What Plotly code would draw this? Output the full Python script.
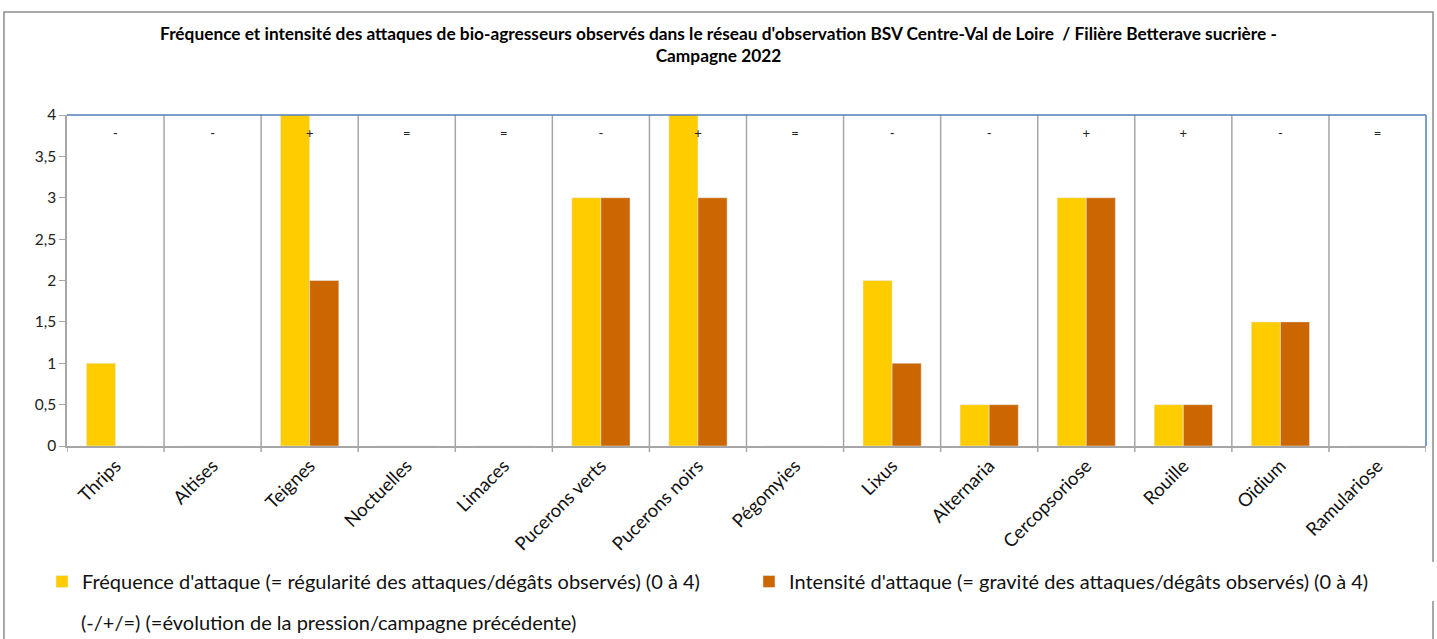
import plotly.graph_objects as go

categories = ["Thrips", "Altises", "Teignes", "Noctuelles", "Limaces", "Pucerons verts",
              "Pucerons noirs", "Pégomyies", "Lixus", "Alternaria", "Cercopsoriose",
              "Rouille", "Oïdium", "Ramulariose"]
frequence = [1, 0, 4, 0, 0, 3, 4, 0, 2, 0.5, 3, 0.5, 1.5, 0]
intensite = [0, 0, 2, 0, 0, 3, 3, 0, 1, 0.5, 3, 0.5, 1.5, 0]
evolution = ["-", "-", "+", "=", "=", "-", "+", "=", "-", "-", "+", "+", "-", "="]
evolution_level = [3.76] * len(categories)

FONT = "Lato"
fig = go.Figure()
fig.add_trace(go.Bar(x=categories, y=frequence, marker_color="#FFCC00",
                     name="Fréquence d'attaque (= régularité des attaques/dégâts observés) (0 à 4)"))
fig.add_trace(go.Bar(x=categories, y=intensite, marker_color="#CC6600",
                     name="Intensité d'attaque (= gravité des attaques/dégâts observés) (0 à 4)"))
fig.add_trace(go.Scatter(x=categories, y=evolution_level, mode="text", text=evolution,
                         textfont=dict(size=13, color="#222", family=FONT), showlegend=False,
                         cliponaxis=False, hoverinfo="skip"))

shapes = []
n = len(categories)
for i in range(1, n):
    shapes.append(dict(type="line", xref="x", yref="paper", x0=i - 0.5, x1=i - 0.5,
                       y0=-0.018, y1=1, line=dict(color="#A6A6A6", width=1.5)))
shapes.append(dict(type="line", xref="x", yref="paper", x0=-0.5, x1=-0.5,
                   y0=-0.018, y1=0, line=dict(color="#A6A6A6", width=1.5)))
shapes.append(dict(type="line", xref="x", yref="paper", x0=n - 0.5, x1=n - 0.5,
                   y0=-0.018, y1=0, line=dict(color="#A6A6A6", width=1.5)))
# blue top / right border
shapes.append(dict(type="line", xref="paper", yref="paper", x0=0, x1=1, y0=1, y1=1,
                   line=dict(color="#4F81BD", width=1.5)))
shapes.append(dict(type="line", xref="paper", yref="paper", x0=1, x1=1, y0=0, y1=1,
                   line=dict(color="#4F81BD", width=1.5)))
# outer chart frame
shapes.append(dict(type="rect", xref="paper", yref="paper",
                   x0=(4 - 67) / 1358, x1=(1432 - 67) / 1358,
                   y0=(446 - 660) / 331, y1=(446 - 12) / 331,
                   line=dict(color="#8C8C8C", width=1.5), fillcolor="rgba(0,0,0,0)", layer="below"))

fig.update_layout(
    width=1437, height=639,
    margin=dict(l=67, r=11, t=115, b=193, autoexpand=False),
    paper_bgcolor="white", plot_bgcolor="white",
    barmode="group", bargap=0.4, bargroupgap=0,
    title=dict(text="<b>Fréquence et intensité des attaques de bio-agresseurs observés dans le réseau d'observation BSV Centre-Val de Loire  / Filière Betterave sucrière -<br>Campagne 2022</b>",
               x=0.5, xref="container", xanchor="center",
               y=1 - 40 / 639, yref="container", yanchor="top",
               font=dict(family=FONT, size=17.3, color="#000")),
    xaxis=dict(tickangle=-45, tickfont=dict(family=FONT, size=18.5, color="#111"),
               showline=True, linecolor="#A6A6A6", linewidth=1.5, showgrid=False,
               ticks="", range=[-0.5, n - 0.5], automargin=False),
    yaxis=dict(range=[0, 4], dtick=0.5, tickformat=".1~f",
               tickfont=dict(family=FONT, size=15.5, color="#222"),
               showline=True, linecolor="#A6A6A6", linewidth=1.5, ticks="outside",
               ticklen=6, tickcolor="#A6A6A6", showgrid=False, zeroline=False, automargin=False),
    separators=", ",
    legend=dict(orientation="h", x=(42 - 67) / 1358, xanchor="left", y=(446 - 562) / 331, yanchor="top",
                font=dict(family=FONT, size=20, color="#111"),
                entrywidth=662, entrywidthmode="pixels", itemwidth=30,
                traceorder="normal"),
    shapes=shapes,
    annotations=[dict(text="(-/+/=) (=évolution de la pression/campagne précédente)",
                      xref="paper", yref="paper", x=(79 - 67) / 1358, y=(446 - 622) / 331,
                      xanchor="left", yanchor="middle", showarrow=False,
                      font=dict(family=FONT, size=20, color="#111"))],
    showlegend=True,
)
fig.write_html("out.html", config={"displayModeBar": False},
               post_script="document.body.style.margin='0px';")
